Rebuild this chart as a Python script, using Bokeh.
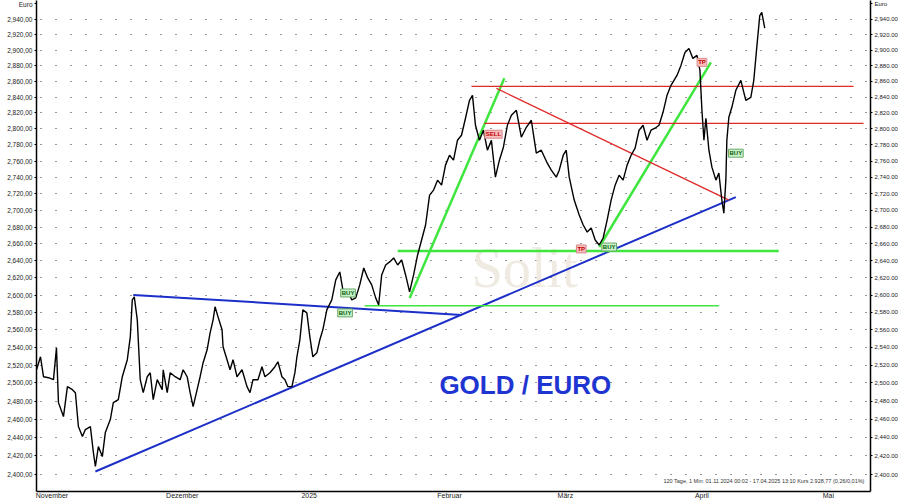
from bokeh.plotting import figure
from bokeh.models import Range1d, FixedTicker, LogAxis, CustomJSTickFormatter, Label
from bokeh.embed import file_html
from bokeh.resources import INLINE
from bokeh.core.properties import value

# ---- price series: day = days since 01.11.2024, price in EUR ----
day = [0.55, 1.47, 2.16, 3.31, 4.46, 5.15, 5.61, 6.76, 7.67, 8.82, 9.51, 10.20, 11.12, 11.81, 12.96, 13.65,
       14.11, 14.80, 15.71, 16.40, 17.55, 18.24, 19.39, 20.31, 21.46, 22.15, 22.61, 23.07, 23.76, 24.44, 25.13,
       26.05, 26.74, 27.43, 28.35, 29.50, 29.73, 30.65, 31.34, 32.49, 33.63, 34.32, 35.24, 35.93, 36.62, 37.54,
       38.23, 38.92, 39.84, 40.53, 41.22, 41.67, 42.36, 43.28, 43.51, 44.43, 45.12, 45.81, 46.73, 47.88, 49.03,
       49.72, 50.41, 51.55, 52.47, 53.16, 54.31, 55.46, 56.15, 57.07, 57.76, 58.45, 59.37, 60.06, 60.52, 61.20,
       61.89, 62.81, 63.50, 64.19, 65.11, 65.80, 66.49, 67.41,
       68.55, 69.47, 70.39, 71.31, 72.23, 73.15, 74.07, 74.99, 75.91, 76.83, 77.74, 78.66, 79.35, 80.04, 80.96,
       81.88, 82.80, 83.72, 84.64, 85.55, 86.47, 87.39, 88.31, 89.23, 90.15, 91.07, 91.99, 92.91, 93.83, 94.74,
       95.66, 96.58, 97.50, 98.42, 99.34, 100.26, 100.95, 101.64, 102.56, 103.47, 104.39, 105.31, 106.23, 107.15,
       108.07, 108.99, 109.91, 111.06, 112.20, 113.35, 114.50, 115.65, 116.80, 118.18, 119.10, 120.25, 120.93,
       121.85, 122.54, 123.23, 124.38, 125.53, 126.45, 127.37, 128.29, 129.21, 130.12, 131.04, 131.96, 132.88,
       133.80, 134.72, 135.64, 136.56, 137.48, 138.40, 139.31, 140.23, 141.15, 142.07, 142.99, 143.91, 144.83,
       145.75, 146.67, 148.04, 148.96, 149.88, 150.80, 151.72, 152.64, 153.33, 153.79, 154.25, 154.71, 155.40,
       156.09, 157.01, 157.69, 158.38, 158.84, 159.30, 159.53, 159.99, 160.68, 161.60, 162.75, 163.90, 165.05,
       165.73, 166.42, 167.11, 167.57, 168.26]
price = [2514.8, 2529.4, 2507.0, 2505.9, 2503.7, 2539.6, 2478.2, 2462.8, 2495.9, 2492.6, 2489.2, 2451.9, 2441.0,
         2448.6, 2451.9, 2423.7, 2408.6, 2430.1, 2419.3, 2445.3, 2459.5, 2478.2, 2481.5, 2507.0, 2526.1, 2552.0,
         2594.4, 2597.9, 2571.4, 2503.7, 2489.2, 2507.0, 2511.5, 2481.5, 2503.7, 2492.6, 2514.8, 2489.2, 2511.5,
         2507.0, 2503.7, 2514.8, 2507.0, 2489.2, 2473.8, 2492.6, 2507.0, 2522.7, 2537.3, 2556.6, 2571.4, 2586.4,
         2574.8, 2560.0, 2540.7, 2526.1, 2514.8, 2526.1, 2507.0, 2514.8, 2495.9, 2489.2, 2503.7, 2503.7, 2518.2,
         2507.0, 2511.5, 2518.2, 2523.8, 2507.0, 2503.7, 2495.9, 2495.9, 2511.5, 2529.4, 2548.6, 2582.9, 2579.4,
         2552.0, 2529.4, 2533.9, 2548.6, 2560.0, 2582.9,
         2594.4, 2617.6,
         2626.9, 2600.2, 2606.0, 2594.4, 2596.7, 2611.8, 2631.6, 2619.9, 2611.8, 2596.7, 2588.6, 2623.4, 2635.1,
         2638.7, 2643.4, 2635.1, 2641.0, 2623.4, 2603.7, 2623.4, 2646.9, 2664.6, 2682.5, 2718.5, 2724.6, 2736.7,
         2730.6, 2755.1, 2767.3, 2761.2, 2785.9, 2792.1, 2813.3, 2835.9, 2842.2, 2804.5, 2785.9, 2798.3, 2773.5,
         2785.9, 2740.4, 2761.2, 2777.2, 2804.5, 2817.0, 2823.3, 2789.6, 2802.0, 2810.8, 2769.8, 2773.5, 2757.5,
         2748.9, 2740.4, 2748.9, 2767.3, 2773.5, 2740.4, 2712.5, 2694.4, 2682.5, 2674.1, 2678.9, 2664.6, 2658.7,
         2667.0, 2688.4, 2712.5, 2730.6, 2742.8, 2736.7, 2755.1, 2767.3, 2776.0, 2798.3, 2804.5, 2785.9, 2798.3,
         2800.8, 2804.5, 2820.8, 2842.2, 2854.9, 2867.6, 2880.4, 2897.1, 2902.3, 2889.4, 2893.3, 2874.0, 2823.3,
         2785.9, 2813.3, 2773.5, 2752.6, 2736.7, 2745.3, 2712.5, 2696.8, 2736.7, 2785.9, 2814.5, 2827.1, 2848.6,
         2861.3, 2835.9, 2839.7, 2861.3, 2903.6, 2945.2, 2949.2, 2928.8]
last_price = 2928.77

# ---- axis ticks / labels ----
price_ticks = [2400, 2420, 2440, 2460, 2480, 2500, 2520, 2540, 2560, 2580, 2600, 2620, 2640, 2660, 2680,
               2700, 2720, 2740, 2760, 2780, 2800, 2820, 2840, 2860, 2880, 2900, 2920, 2940]
unit_label = "Euro"
unit_label_price = 2961.0
month_names = ["November", "Dezember", "2025", "Februar", "März", "April", "Mai"]
month_start_day = [0, 30, 61, 92, 120, 151, 181]

# ---- drawn trend lines (day, price) ----
blue_days = [[14.11, 161.60], [22.84, 98.42]]
blue_prices = [[2403.2, 2716.1], [2600.2, 2577.1]]
green_days = [[86.49, 108.29], [130.13, 155.86], [83.72, 171.48]]
green_prices = [[2596.7, 2863.8], [2656.3, 2884.3], [2651.6, 2651.6]]
green_thin_days = [76.14, 157.69]
green_thin_prices = [2587.5, 2587.5]
red_days = [[100.72, 188.71], [103.70, 191.0], [106.46, 160.0]]
red_prices = [[2853.6, 2853.6], [2807.0, 2807.0], [2851.1, 2712.5]]

# ---- signal boxes ----
sig_text = ["BUY", "BUY", "SELL", "TP", "BUY", "TP", "BUY"]
sig_day = [72.30, 71.61, 105.78, 126.0, 132.43, 153.80, 161.60]
sig_price = [2602.4, 2579.4, 2793.3, 2654.0, 2656.3, 2884.3, 2769.8]

footer = "120 Tage, 1 Min: 01.11.2024 00:02 - 17.04.2025 13:10 Kurs 2.928,77 (0,26/0,01%)"

FONT = "Liberation Sans"
x_start, x_end = 0.55, 192.61
p = figure(width=900, height=501, x_range=Range1d(x_start, x_end), y_range=Range1d(2381.9, 2965.0),
           y_axis_type="log", output_backend="svg", toolbar_location=None,
           min_border_left=36, min_border_right=28, min_border_top=0, min_border_bottom=9)
p.outline_line_color = None
p.background_fill_color = "white"
p.border_fill_color = "white"

axis_ticker = FixedTicker(ticks=price_ticks + [unit_label_price])
grid_ticker = FixedTicker(ticks=price_ticks)
p.yaxis.ticker = axis_ticker
p.ygrid.ticker = grid_ticker
p.ygrid.grid_line_color = "#333333"
p.ygrid.grid_line_width = 1
p.ygrid.grid_line_dash = "1 14"
p.ygrid.grid_line_dash_offset = 11
p.xgrid.visible = False

left_fmt = CustomJSTickFormatter(args=dict(u=unit_label), code=
    "if (tick > 2950) { return u; } var s = Math.round(tick).toString(); return s.charAt(0) + ',' + s.substring(1) + ',00';")
right_fmt = CustomJSTickFormatter(args=dict(u=unit_label), code=
    "if (tick > 2950) { return u; } var s = Math.round(tick).toString(); return s.charAt(0) + ',' + s.substring(1) + '.00';")

def style_y(ax, size):
    ax.axis_line_color = "black"
    ax.axis_line_width = 1.5
    ax.major_tick_out = 2
    ax.major_tick_in = 0
    ax.minor_tick_out = 0
    ax.minor_tick_in = 0
    ax.major_label_standoff = 2
    ax.major_label_text_font = FONT
    ax.major_label_text_font_size = size
    ax.major_label_text_color = "#222222"

yl = p.yaxis[0]
yl.formatter = left_fmt
style_y(yl, "6.5px")
yr = LogAxis(ticker=axis_ticker, formatter=right_fmt)
style_y(yr, "6px")
p.add_layout(yr, "right")

px_per_day = 836 / (x_end - x_start)
label_pos = [round(d + (len(n) * 7 * 0.55 / 2 + 2.5) / px_per_day, 3) for d, n in zip(month_start_day, month_names)]
xa = p.xaxis[0]
xa.ticker = FixedTicker(ticks=label_pos)
xa.major_label_overrides = {pos: n for pos, n in zip(label_pos, month_names)}
xa.axis_line_color = "black"
xa.axis_line_width = 1.5
xa.major_tick_out = 0
xa.major_tick_in = 0
xa.minor_tick_out = 0
xa.minor_tick_in = 0
xa.major_label_standoff = 0
xa.major_label_text_font = FONT
xa.major_label_text_font_size = "7px"
xa.major_label_text_color = "#222222"

# watermark
p.text(x=[100.8], y=[2631.6], text=["Solit"], text_font=value("Liberation Serif"), text_font_size="56px",
       text_color="#f0ebe2", text_baseline="alphabetic", text_align="left")

# trend lines
p.multi_line(xs=blue_days, ys=blue_prices, line_color="#1c2fc8", line_width=2)
p.line(green_thin_days, green_thin_prices, line_color="#3ee63e", line_width=1.5)
p.multi_line(xs=green_days, ys=green_prices, line_color="#3ee63e", line_width=2.5)
p.multi_line(xs=red_days, ys=red_prices, line_color="#e02a2a", line_width=1.3)

# price
p.line(day, price, line_color="black", line_width=1.4)

# title text
p.text(x=[113.12], y=[2498.1], text=["GOLD / EURO"], text_font=value(FONT), text_font_style="bold",
       text_font_size="26px", text_color="#1f35d1", text_align="center", text_baseline="middle")

for t, d, pr in zip(sig_text, sig_day, sig_price):
    buy = t == "BUY"
    p.add_layout(Label(x=d, y=pr, text=t, text_align="center", text_baseline="middle",
                       text_font=FONT, text_font_size="6px", text_font_style="bold",
                       text_color="#0a5a0a" if buy else "#c00000",
                       background_fill_color="#c8f3c8" if buy else "#f7bcbc",
                       border_line_color="#6aa86a" if buy else "#d98a8a", border_line_width=1, padding=1))

p.add_layout(Label(x=x_end, y=last_price, x_offset=1, text="2,928.77", text_align="left", text_baseline="middle",
                   text_font=FONT, text_font_size="6px", text_font_style="bold",
                   text_color="white", background_fill_color="#1a1ae6", padding=1))
p.add_layout(Label(x=191.24, y=2392.6, text=footer, text_align="right", text_baseline="middle",
                   text_font=FONT, text_font_size="5.5px", text_color="#333333"))

open("out.html", "w").write(file_html(p, INLINE))
